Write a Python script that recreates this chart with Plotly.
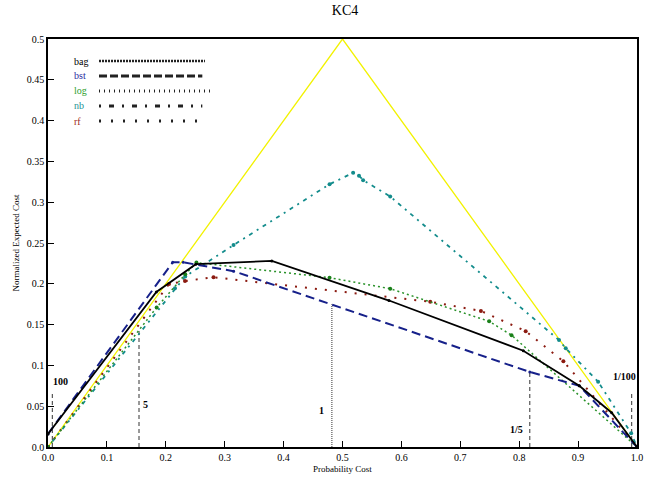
import plotly.graph_objects as go

# ---------------- data ----------------
x_bag = [0.0, 0.184, 0.251, 0.380, 0.579, 0.807, 0.902, 0.957, 1.0]
y_bag = [0.016, 0.190, 0.224, 0.228, 0.1795, 0.118, 0.075, 0.042, 0.0]

x_bst = [0.0, 0.2117, 0.2297, 0.315, 0.818, 0.902, 1.0]
y_bst = [0.016, 0.2263, 0.2263, 0.2155, 0.092, 0.075, 0.0]

x_log = [0.0, 0.1845, 0.233, 0.252, 0.478, 0.581, 0.749, 0.787, 1.0]
y_log = [0.0, 0.171, 0.2116, 0.226, 0.2075, 0.194, 0.154, 0.137, 0.0]

x_nb = [0.0, 0.2156, 0.233, 0.315, 0.478, 0.518, 0.528, 0.535, 0.581, 0.8676, 0.879, 0.934, 0.99, 1.0]
y_nb = [0.0, 0.1945, 0.209, 0.2475, 0.322, 0.336, 0.3325, 0.327, 0.307, 0.131, 0.121, 0.080, 0.017, 0.0]

x_rf = [0.0, 0.2055, 0.2326, 0.281, 0.649, 0.735, 0.811, 0.875, 1.0]
y_rf = [0.0, 0.1997, 0.2034, 0.208, 0.178, 0.1667, 0.142, 0.105, 0.0]

x_trivial = [0.0, 0.5, 1.0]
y_trivial = [0.0, 0.5, 0.0]

# operating-point reference lines (cost ratios)
ref_labels = ["100", "5", "1", "1/5", "1/100"]
ref_x = [0.0073, 0.1545, 0.482, 0.818, 0.991]
ref_top = [0.068, 0.143, 0.175, 0.092, 0.068]
ref_lab_x = [0.005, 0.158, 0.465, 0.796, 0.979]
ref_lab_y = [0.080, 0.052, 0.045, 0.021, 0.086]
ref_lab_anchor = ["left", "left", "center", "center", "center"]
ref_dash = ["4px,3px", "4px,3px", "1px,1px", "4px,3px", "4px,3px"]

x_ticks = [0.0, 0.1, 0.2, 0.3, 0.4, 0.5, 0.6, 0.7, 0.8, 0.9, 1.0]
x_ticktext = ["0.0", "0.1", "0.2", "0.3", "0.4", "0.5", "0.6", "0.7", "0.8", "0.9", "1.0"]
y_ticks = [0.0, 0.05, 0.1, 0.15, 0.2, 0.25, 0.3, 0.35, 0.4, 0.45, 0.5]
y_ticktext = ["0.0", "0.05", "0.1", "0.15", "0.2", "0.25", "0.3", "0.35", "0.4", "0.45", "0.5"]

legend_names = ["bag", "bst", "log", "nb", "rf"]
legend_text_colors = ["#000000", "#2b2ba0", "#2f9f2f", "#1f9595", "#a02a1a"]

FONT = "Liberation Serif, Times New Roman, serif"

fig = go.Figure()

fig.add_trace(go.Scatter(x=x_trivial, y=y_trivial, mode="lines",
                         line=dict(color="#f2f200", width=1.3), showlegend=False))

for i, lab in enumerate(ref_labels):
    fig.add_trace(go.Scatter(x=[ref_x[i], ref_x[i]], y=[0, ref_top[i]], mode="lines",
                             line=dict(color="#333333", width=1, dash=ref_dash[i]),
                             showlegend=False))

fig.add_trace(go.Scatter(x=x_nb, y=y_nb, mode="lines+markers",
                         line=dict(color="#138c8c", width=1.8, dash="2px,5px,4px,5px"),
                         marker=dict(size=4, color="#138c8c"), showlegend=False))
fig.add_trace(go.Scatter(x=x_rf, y=y_rf, mode="lines+markers",
                         line=dict(color="#8b1a10", width=2, dash="2px,8px"),
                         marker=dict(size=4, color="#8b1a10"), showlegend=False))
fig.add_trace(go.Scatter(x=x_log, y=y_log, mode="lines+markers",
                         line=dict(color="#2a922a", width=1.5, dash="2px,3px"),
                         marker=dict(size=4, color="#1a801a"), showlegend=False))
fig.add_trace(go.Scatter(x=x_bst, y=y_bst, mode="lines+markers",
                         line=dict(color="#16208a", width=2, dash="9px,5px"),
                         marker=dict(size=3, color="#16208a"), showlegend=False))
fig.add_trace(go.Scatter(x=x_bag, y=y_bag, mode="lines+markers",
                         line=dict(color="#000000", width=1.8),
                         marker=dict(size=3, color="#000000"), showlegend=False))

annotations = []
for i, lab in enumerate(ref_labels):
    annotations.append(dict(x=ref_lab_x[i], y=ref_lab_y[i], text="<b>%s</b>" % lab,
                            showarrow=False, xanchor=ref_lab_anchor[i], yanchor="middle",
                            font=dict(family=FONT, size=10, color="#000000")))

# manual legend (text left, sample line right)
leg_y = [0.4730, 0.4547, 0.4363, 0.4179, 0.3995]
leg_dash = ["2px,1px", "8px,3px", "1px,4px", "2px,8px,5px,8px", "2px,10px"]
leg_width = [2.5, 3, 3, 3, 3]
leg_x1 = [0.2665, 0.262, 0.275, 0.262, 0.262]
shapes = []
for i, name in enumerate(legend_names):
    annotations.append(dict(x=0.0407, y=leg_y[i], text=name, showarrow=False,
                            xanchor="left", yanchor="middle",
                            font=dict(family=FONT, size=10, color=legend_text_colors[i])))
    shapes.append(dict(type="line", x0=0.0866, x1=leg_x1[i], y0=leg_y[i], y1=leg_y[i],
                       xref="x", yref="y",
                       line=dict(color="#222222", width=leg_width[i], dash=leg_dash[i])))

fig.update_layout(
    width=661, height=481,
    margin=dict(l=48, r=24, t=39, b=34),
    paper_bgcolor="white", plot_bgcolor="white",
    title=dict(text="KC4", x=0.522, xanchor="center", y=0.99, yanchor="top",
               font=dict(family=FONT, size=14, color="#000000")),
    font=dict(family=FONT, size=10, color="#000000"),
    annotations=annotations,
    shapes=shapes,
    showlegend=False,
)
fig.update_xaxes(range=[0, 1], tickvals=x_ticks, ticktext=x_ticktext,
                 ticks="inside", ticklen=6, tickcolor="black", tickwidth=1,
                 showgrid=False, zeroline=False, showline=True, mirror=True,
                 linecolor="black", linewidth=1.5, automargin=False,
                 title=dict(text="Probability Cost", font=dict(family=FONT, size=9), standoff=4),
                 tickfont=dict(family=FONT, size=10))
fig.update_yaxes(range=[0, 0.5], tickvals=y_ticks, ticktext=y_ticktext,
                 ticks="inside", ticklen=6, tickcolor="black", tickwidth=1,
                 showgrid=False, zeroline=False, showline=True, mirror=True,
                 linecolor="black", linewidth=1.5, automargin=False,
                 title=dict(text="Normalized Expected Cost", font=dict(family=FONT, size=9), standoff=6),
                 tickfont=dict(family=FONT, size=10))

fig.write_html("out.html", config={"displayModeBar": False},
               post_script="document.body.style.margin='0';document.body.style.padding='0';")
